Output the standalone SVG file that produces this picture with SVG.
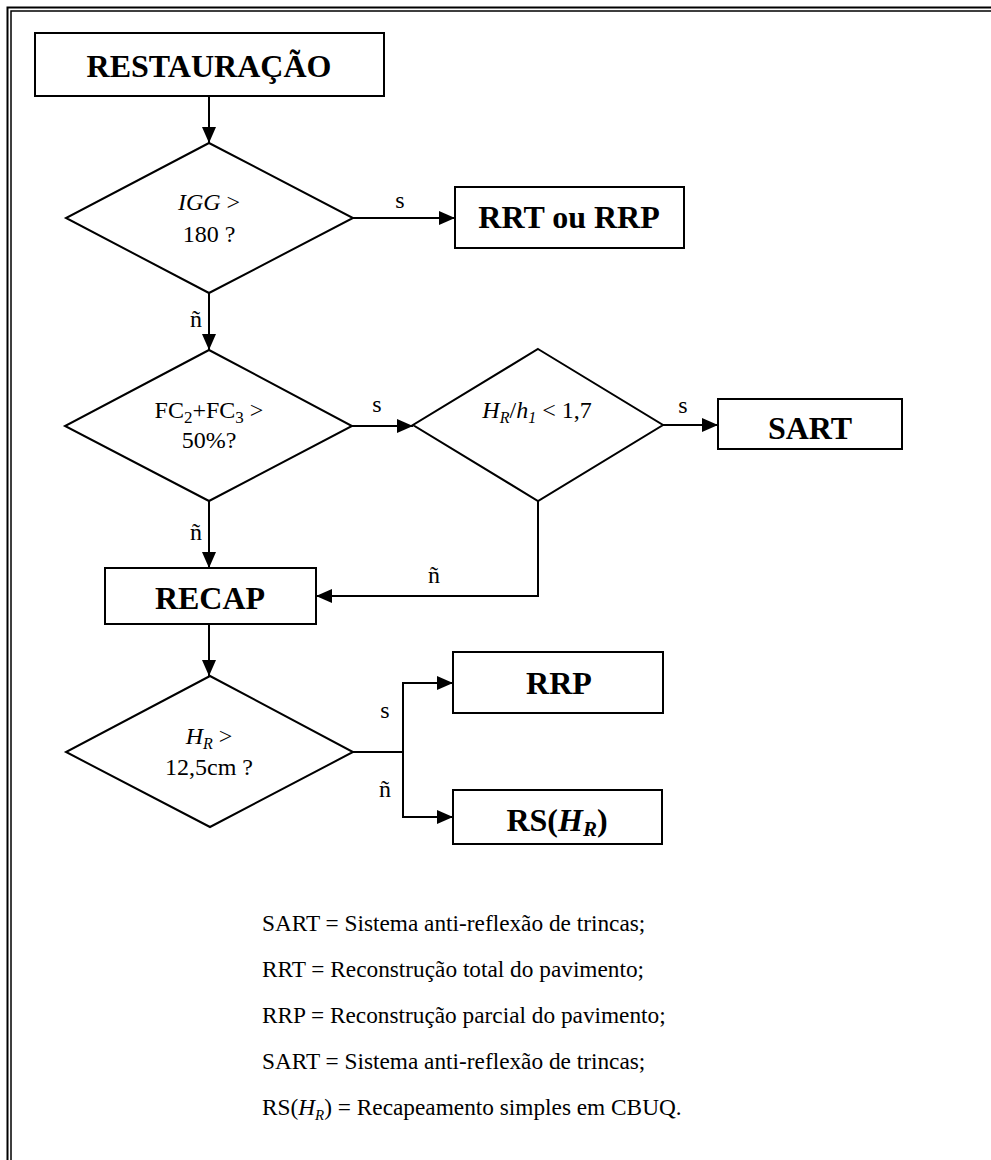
<svg xmlns="http://www.w3.org/2000/svg" width="991" height="1160" viewBox="0 0 991 1160">
  <style>
    .box { fill: #fff; stroke: #000; stroke-width: 2; }
    .dia { fill: #fff; stroke: #000; stroke-width: 2; }
    .wire { fill: none; stroke: #000; stroke-width: 2; }
    .frame { fill: none; stroke: #000; }
    text { font-family: "Liberation Serif", "Times New Roman", serif; fill: #000; }
    .title { font-size: 32px; font-weight: bold; text-anchor: middle; }
    .cond { font-size: 24px; text-anchor: middle; }
    .lbl { font-size: 24px; text-anchor: middle; }
    .legend { font-size: 23.3px; }
    .it { font-style: italic; }
  </style>
  <defs>
    <marker id="arrow" markerUnits="userSpaceOnUse" markerWidth="16" markerHeight="14" refX="16" refY="7" orient="auto">
      <path d="M0,0 L16,7 L0,14 z" fill="#000"/>
    </marker>
  </defs>

  <rect width="991" height="1160" fill="#fff"/>

  <!-- double page frame -->
  <g id="frame">
    <path class="frame" stroke-width="2" d="M7.5,1160 V7.5 H991"/>
    <path class="frame" stroke-width="1.5" d="M11,1160 V11 H991"/>
  </g>

  <!-- connectors -->
  <g id="connectors">
    <path class="wire" marker-end="url(#arrow)" d="M209,96 V143"/>
    <path class="wire" marker-end="url(#arrow)" d="M353,218 H455"/>
    <path class="wire" marker-end="url(#arrow)" d="M209,293 V350"/>
    <path class="wire" marker-end="url(#arrow)" d="M352,426 H413"/>
    <path class="wire" marker-end="url(#arrow)" d="M663,425 H718"/>
    <path class="wire" marker-end="url(#arrow)" d="M538,501 V596 H316"/>
    <path class="wire" marker-end="url(#arrow)" d="M209,501 V568"/>
    <path class="wire" marker-end="url(#arrow)" d="M209,624 V676"/>
    <path class="wire" marker-end="url(#arrow)" d="M353,752 H403 V683 H453"/>
    <path class="wire" marker-end="url(#arrow)" d="M403,752 V817 H453"/>
    <text class="lbl" x="400" y="208">s</text>
    <text class="lbl" x="196" y="327">ñ</text>
    <text class="lbl" x="377" y="412">s</text>
    <text class="lbl" x="683" y="413">s</text>
    <text class="lbl" x="196" y="540">ñ</text>
    <text class="lbl" x="434" y="583">ñ</text>
    <text class="lbl" x="385" y="718">s</text>
    <text class="lbl" x="385" y="797">ñ</text>
  </g>

  <g id="restauracao">
    <rect class="box" x="35" y="33" width="349" height="63"/>
    <text class="title" x="209" y="77">RESTAURAÇÃO</text>
  </g>

  <g id="igg">
    <polygon class="dia" points="209,143 353,218 209,293 66,218"/>
    <text class="cond" x="209" y="210"><tspan class="it">IGG</tspan> &gt;</text>
    <text class="cond" x="209" y="242">180 ?</text>
  </g>

  <g id="rrt-rrp">
    <rect class="box" x="455" y="187" width="229" height="61"/>
    <text class="title" x="569" y="228">RRT ou RRP</text>
  </g>

  <g id="fc">
    <polygon class="dia" points="209,350 352,426 209,501 65,426"/>
    <text class="cond" x="209" y="418" font-size="25">FC<tspan font-size="17" dy="5">2</tspan><tspan dy="-5">+FC</tspan><tspan font-size="17" dy="5">3</tspan><tspan dy="-5"> &gt;</tspan></text>
    <text class="cond" x="209" y="448">50%?</text>
  </g>

  <g id="hr-h1">
    <polygon class="dia" points="538,349 663,425 538,501 413,425"/>
    <text class="cond" x="537" y="418"><tspan class="it">H</tspan><tspan class="it" font-size="16" dy="5">R</tspan><tspan dy="-5">/</tspan><tspan class="it">h</tspan><tspan class="it" font-size="16" dy="5">1</tspan><tspan dy="-5"> &lt; 1,7</tspan></text>
  </g>

  <g id="sart">
    <rect class="box" x="718" y="399" width="184" height="50"/>
    <text class="title" x="810" y="439">SART</text>
  </g>

  <g id="recap">
    <rect class="box" x="105" y="568" width="211" height="56"/>
    <text class="title" x="210" y="609">RECAP</text>
  </g>

  <g id="hr">
    <polygon class="dia" points="210,676 353,752 210,827 66,752"/>
    <text class="cond" x="209" y="744"><tspan class="it">H</tspan><tspan class="it" font-size="16" dy="5">R</tspan><tspan dy="-5"> &gt;</tspan></text>
    <text class="cond" x="209" y="775">12,5cm ?</text>
  </g>

  <g id="rrp">
    <rect class="box" x="453" y="652" width="210" height="61"/>
    <text class="title" x="559" y="694">RRP</text>
  </g>

  <g id="rs">
    <rect class="box" x="453" y="790" width="209" height="54"/>
    <text class="title" x="557" y="831">RS(<tspan class="it">H</tspan><tspan class="it" font-size="21" dy="5">R</tspan><tspan dy="-5">)</tspan></text>
  </g>

  <g id="legend">
    <text class="legend" x="262" y="931">SART = Sistema anti-reflexão de trincas;</text>
    <text class="legend" x="262" y="977">RRT = Reconstrução total do pavimento;</text>
    <text class="legend" x="262" y="1023">RRP = Reconstrução parcial do pavimento;</text>
    <text class="legend" x="262" y="1069">SART = Sistema anti-reflexão de trincas;</text>
    <text class="legend" x="262" y="1115">RS(<tspan class="it">H</tspan><tspan class="it" font-size="15" dy="5">R</tspan><tspan dy="-5">) = Recapeamento simples em CBUQ.</tspan></text>
  </g>
</svg>
